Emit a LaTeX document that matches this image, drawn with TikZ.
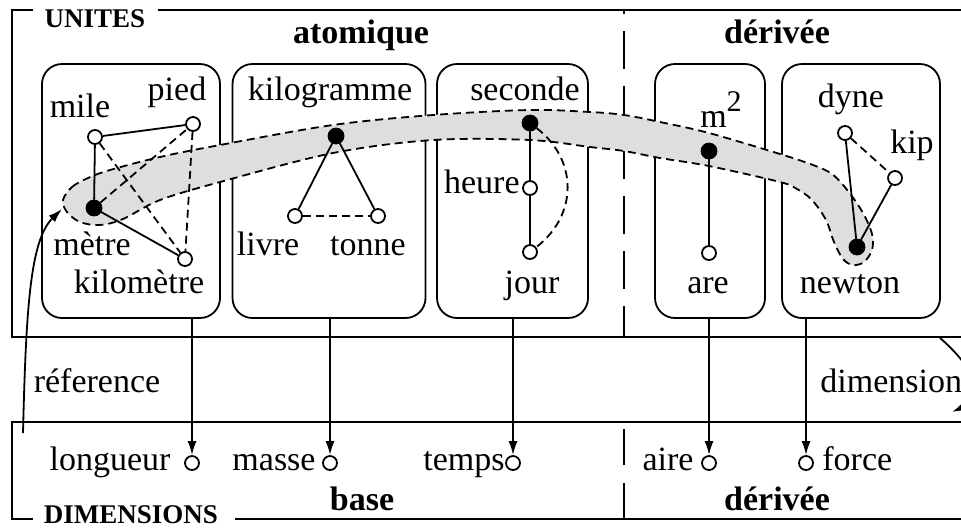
\documentclass[tikz,border=0pt]{standalone}
\usepackage{fontspec}
\setmainfont{Liberation Serif}
\usetikzlibrary{arrows.meta}
\begin{document}
\begin{tikzpicture}[x=0.5pt,y=-0.5pt,
  lbl/.style={font=\fontsize{17}{20}\selectfont, inner sep=0pt, anchor=base},
  hdr/.style={font=\fontsize{17}{20}\selectfont\bfseries, inner sep=0pt, anchor=base},
  ttl/.style={font=\fontsize{13.5}{16}\selectfont\bfseries, inner sep=0pt, anchor=base},
  unitbox/.style={draw, rounded corners=10pt, line width=0.9pt, inner sep=0pt, minimum height=127pt},
  oc/.style={circle, draw, fill=white, line width=0.9pt, minimum size=7pt, inner sep=0pt},
  fc/.style={circle, draw, fill=black, minimum size=8pt, inner sep=0pt},
  link/.style={line width=0.9pt},
  weak/.style={line width=0.9pt, dash pattern=on 4pt off 2.5pt},
  framel/.style={line width=0.9pt},
  divider/.style={line width=0.9pt, dash pattern=on 19pt off 8.5pt},
  arr/.style={line width=0.9pt, -{Latex[length=7pt,width=4.5pt]}},
  band/.style={fill=black!13, line width=0.9pt, dash pattern=on 4pt off 2.5pt},
]
\useasboundingbox (0,0) rectangle (961,527);
\clip (0,0) rectangle (961,527);

% frames
\draw[framel] (33,10) -- (12,10) -- (12,337) -- (980,337);
\draw[framel] (158,10) -- (980,10);
\node[ttl] (units) at (95,27) {UNITES};
\draw[framel] (980,422) -- (12,422) -- (12,519) -- (33,519);
\draw[framel] (235,519) -- (980,519);
\node[ttl] (dims) at (131,523) {DIMENSIONS};

% headings
\node[hdr] (hatom) at (361,43) {atomique};
\node[hdr] (hder) at (777,43) {dérivée};
\node[hdr] (hbase) at (362,510) {base};
\node[hdr] (hder2) at (777,510) {dérivée};

% unit boxes
\node[unitbox, minimum width=89pt] (b1) at (131,191) {};
\node[unitbox, minimum width=96.5pt] (b2) at (329,191) {};
\node[unitbox, minimum width=75.5pt] (b3) at (512.5,191) {};
\node[unitbox, minimum width=55pt] (b4) at (710,191) {};
\node[unitbox, minimum width=79pt] (b5) at (861,191) {};

% dividers
\draw[divider, dash phase=17pt] (624,10) -- (624,337);
\draw[divider, dash pattern=on 18pt off 9pt] (624,519) -- (624,422);

% band
\draw[band] plot[smooth cycle, tension=0.55] coordinates {
  (63,200) (72,187) (88,178) (110,170) (160,157) (220,145) (333,125) (433,115)
  (530,110) (590,112) (624,115) (660,122) (709,133) (780,154) (813,165)
  (832,174) (848,191) (863,213) (872,234) (872,250) (864,262) (853,265)
  (843,259) (834,242) (826,220) (812,200) (797,189) (780,182) (709,166)
  (660,158) (624,151) (590,147) (530,140) (433,140) (333,153) (220,182)
  (160,200) (123,219) (100,225) (80,222) (67,212) };

% units - box 1
\node[oc] (mile) at (95,137) {};
\node[oc] (pied) at (193,124) {};
\node[fc] (metre) at (94,208) {};
\node[oc] (km) at (185,259) {};
\node[lbl] (lmile) at (80,117) {mile};
\node[lbl] (lpied) at (177,100) {pied};
\node[lbl] (lmetre) at (92,255) {mètre};
\node[lbl] (lkm) at (139,293) {kilomètre};
% box 2
\node[fc] (kg) at (336,136) {};
\node[oc] (livre) at (295,216) {};
\node[oc] (tonne) at (378,216) {};
\node[lbl] (lkg) at (330,100) {kilogramme};
\node[lbl] (llivre) at (268,255) {livre};
\node[lbl] (ltonne) at (368,255) {tonne};
% box 3
\node[fc] (sec) at (530,123) {};
\node[oc] (heure) at (530,188) {};
\node[oc] (jour) at (530,252) {};
\node[lbl] (lsec) at (525,100) {seconde};
\node[lbl, anchor=base east] (lheure) at (520,193) {heure};
\node[lbl] (ljour) at (532,293) {jour};
% box 4
\node[fc] (m2) at (709,151) {};
\node[oc] (are) at (709,253) {};
\node[lbl] (lm2) at (721,127) {m\raisebox{8pt}{\fontsize{15}{17}\selectfont 2}};
\node[lbl] (lare) at (708,293) {are};
% box 5
\node[oc] (dyne) at (845,133) {};
\node[oc] (kip) at (895,178) {};
\node[fc] (newton) at (857,247) {};
\node[lbl] (ldyne) at (851,107) {dyne};
\node[lbl] (lkip) at (912,153) {kip};
\node[lbl] (lnewton) at (850,293) {newton};

% edges
\draw[link] (mile) -- (pied);
\draw[link] (mile) -- (metre);
\draw[link] (metre) -- (km);
\draw[weak] (mile) -- (km);
\draw[weak] (metre) -- (pied);
\draw[weak] (pied) -- (km);
\draw[link] (kg) -- (livre);
\draw[link] (kg) -- (tonne);
\draw[weak] (livre) -- (tonne);
\draw[link] (sec) -- (heure);
\draw[link] (heure) -- (jour);
\draw[weak] (sec) .. controls (578,160) and (578,215) .. (jour);
\draw[link] (m2) -- (are);
\draw[link] (dyne) -- (newton);
\draw[link] (kip) -- (newton);
\draw[weak] (dyne) -- (kip);

% dimensions
\node[oc] (dlong) at (192,463) {};
\node[oc] (dmasse) at (330,463) {};
\node[oc] (dtemps) at (513,463) {};
\node[oc] (daire) at (709,463) {};
\node[oc] (dforce) at (806,463) {};
\node[lbl] (llong) at (110,470) {longueur};
\node[lbl] (lmasse) at (274,470) {masse};
\node[lbl, anchor=base east] (ltemps) at (505,470) {temps};
\node[lbl] (laire) at (668,470) {aire};
\node[lbl, anchor=base west] (lforce) at (822,470) {force};

\draw[arr] (b1.south -| dlong) -- (dlong);
\draw[arr] (b2.south -| dmasse) -- (dmasse);
\draw[arr] (b3.south -| dtemps) -- (dtemps);
\draw[arr] (b4.south -| daire) -- (daire);
\draw[arr] (b5.south -| dforce) -- (dforce);

% reference / dimension arrows
\node[lbl] (lref) at (97,392) {réference};
\node[lbl, anchor=base west] (ldim) at (820,392) {dimension};
\coordinate (refstart) at (23,433);
\coordinate (refend) at (62,209);
\draw[arr] (refstart) .. controls (26,310) and (30,240) .. (refend);
\coordinate (dimstart) at (940,338);
\coordinate (dimend) at (952,412);
\draw[arr] (dimstart) .. controls (968,362) and (990,395) .. (dimend);
\end{tikzpicture}
\end{document}
